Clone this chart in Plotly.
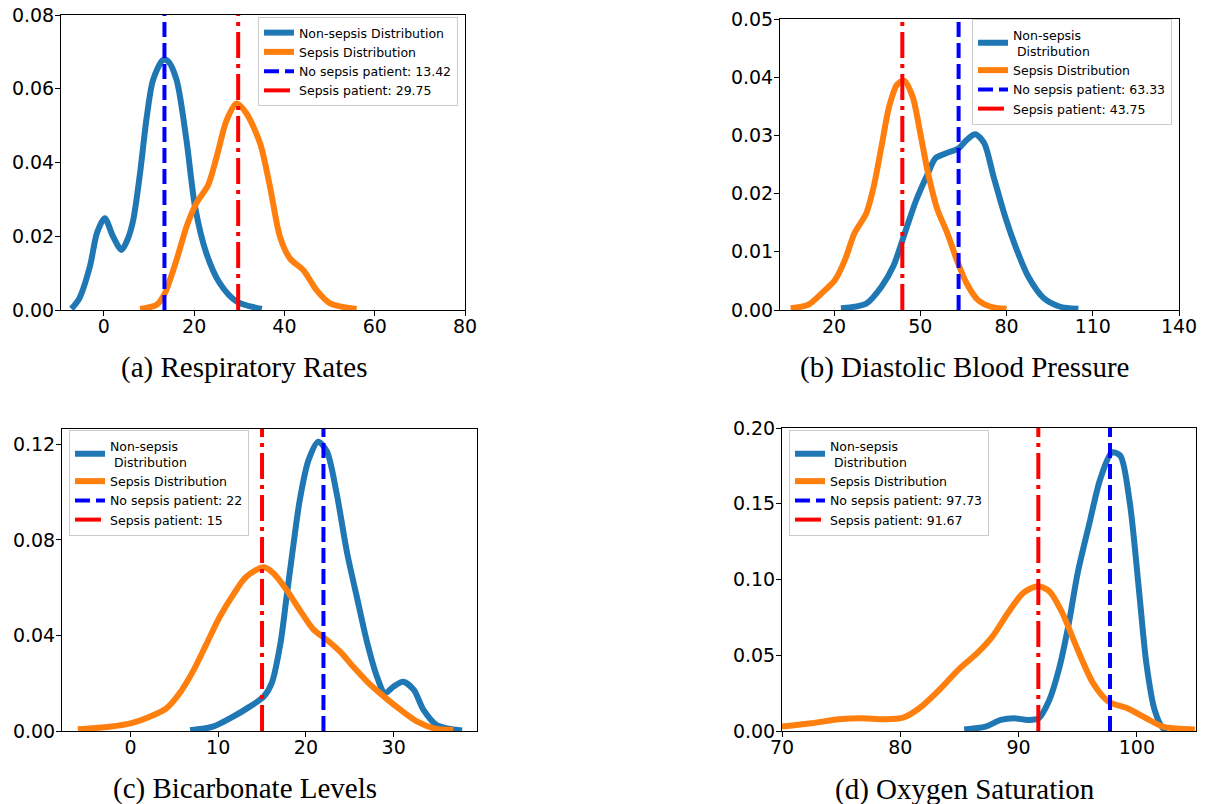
import plotly.graph_objects as go

W, H = 1205, 804

# ---- (a) Respiratory Rates: density curves read as (x, density) pairs ----
resp_non_x = [-7.2, -5.5, -3.1, -1.5, 0.2, 2.0, 3.9, 5.2, 6.5, 8.0, 9.5, 10.9, 13.1, 14.2, 16.1, 18.3, 20.2, 22.7, 25.7, 29.4, 35.0]
resp_non_y = [0.0003, 0.003, 0.0118, 0.021, 0.0249, 0.020, 0.0163, 0.019, 0.0244, 0.037, 0.0524, 0.0624, 0.0678, 0.0675, 0.0624, 0.046, 0.028, 0.0154, 0.0072, 0.0023, 0.0003]
resp_sep_x = [8.0, 11.7, 13.5, 16.1, 18.3, 20.5, 23.1, 25.0, 27.2, 29.4, 31.6, 34.6, 36.8, 39.0, 41.2, 44.2, 47.1, 50.1, 56.0]
resp_sep_y = [0.0003, 0.0014, 0.0045, 0.0136, 0.0226, 0.029, 0.0339, 0.0416, 0.0515, 0.056, 0.0533, 0.0452, 0.0334, 0.0199, 0.014, 0.0108, 0.0054, 0.0018, 0.0003]
resp_no_patient = 13.42
resp_sep_patient = 29.75

# ---- (b) Diastolic Blood Pressure ----
dbp_non_x = [22.4, 31.2, 36.5, 40.6, 44.6, 48.6, 52.7, 55.3, 59.4, 63.4, 66.1, 69.1, 72.2, 75.5, 79.5, 83.6, 87.6, 93.0, 98.4, 105.0]
dbp_non_y = [0.0003, 0.0011, 0.004, 0.0075, 0.0132, 0.0189, 0.0235, 0.0261, 0.027, 0.0278, 0.0292, 0.0302, 0.0287, 0.0229, 0.0161, 0.0103, 0.0057, 0.002, 0.0006, 0.0002]
dbp_sep_x = [4.9, 11.0, 16.4, 20.4, 23.8, 27.1, 31.2, 33.8, 36.5, 39.2, 41.9, 44.3, 47.3, 50.0, 52.7, 56.0, 59.4, 62.7, 66.1, 70.1, 74.2, 80.0]
dbp_sep_y = [0.0003, 0.0009, 0.0032, 0.0052, 0.0086, 0.0132, 0.0166, 0.0212, 0.0281, 0.035, 0.0387, 0.0394, 0.0367, 0.0304, 0.0235, 0.0172, 0.0132, 0.0086, 0.0046, 0.0017, 0.0006, 0.0002]
dbp_no_patient = 63.33
dbp_sep_patient = 43.75

# ---- (c) Bicarbonate Levels ----
bic_non_x = [6.8, 9.4, 11.7, 13.6, 15.2, 16.1, 17.1, 17.8, 18.6, 19.3, 20.3, 21.4, 22.4, 23.5, 24.7, 25.8, 27.0, 28.1, 29.0, 30.0, 31.1, 32.3, 33.4, 34.9, 37.8]
bic_non_y = [0.0003, 0.0018, 0.006, 0.0102, 0.0144, 0.02, 0.0367, 0.0562, 0.0786, 0.0967, 0.1134, 0.1211, 0.1169, 0.0995, 0.0744, 0.0562, 0.0367, 0.0227, 0.0158, 0.0186, 0.0206, 0.0172, 0.0088, 0.0025, 0.0002]
bic_sep_x = [-6.0, -2.4, 0.0, 2.2, 4.1, 5.6, 7.2, 8.7, 10.2, 11.7, 13.2, 15.2, 16.3, 17.8, 19.3, 20.9, 22.4, 23.9, 25.4, 27.0, 28.9, 30.8, 32.7, 34.6, 36.8]
bic_sep_y = [0.0007, 0.0018, 0.0032, 0.006, 0.0095, 0.0158, 0.0255, 0.0367, 0.0479, 0.057, 0.0646, 0.0685, 0.066, 0.059, 0.0506, 0.0423, 0.0381, 0.0332, 0.0269, 0.0206, 0.0144, 0.0088, 0.0039, 0.0011, 0.0004]
bic_no_patient = 22
bic_sep_patient = 15

# ---- (d) Oxygen Saturation ----
o2_non_x = [85.4, 87.2, 88.5, 89.6, 90.8, 91.7, 92.6, 93.4, 94.2, 95.0, 96.0, 96.9, 97.9, 98.6, 99.4, 100.2, 100.8, 101.5, 102.2, 102.6]
o2_non_y = [0.001, 0.0029, 0.0073, 0.0084, 0.0073, 0.0084, 0.0205, 0.0404, 0.0691, 0.1044, 0.1375, 0.1662, 0.1839, 0.1817, 0.1508, 0.0912, 0.0448, 0.0139, 0.0018, 0.0003]
o2_sep_x = [70.0, 72.5, 74.8, 76.8, 78.7, 80.3, 81.6, 83.3, 84.9, 86.5, 87.8, 89.1, 90.4, 91.6, 92.6, 93.7, 95.0, 96.3, 97.6, 99.2, 100.8, 102.2, 104.9]
o2_sep_y = [0.0029, 0.0051, 0.0077, 0.0084, 0.0077, 0.009, 0.015, 0.0272, 0.0404, 0.0514, 0.0625, 0.0779, 0.0912, 0.0956, 0.0923, 0.0779, 0.0536, 0.0316, 0.0194, 0.015, 0.0084, 0.0029, 0.001]
o2_no_patient = 97.73
o2_sep_patient = 91.67

captions = ["(a) Respiratory Rates", "(b) Diastolic Blood Pressure",
            "(c) Bicarbonate Levels", "(d) Oxygen Saturation"]

panels = [
    dict(non=(resp_non_x, resp_non_y), sep=(resp_sep_x, resp_sep_y),
         no_pat=resp_no_patient, sep_pat=resp_sep_patient, one_line=True,
         xrange=[-9.5, 80], yrange=[0, 0.08],
         xticks=[0, 20, 40, 60, 80], yticks=[0, 0.02, 0.04, 0.06, 0.08],
         box=(61, 465, 15, 310), legend=dict(x=458, y=17, xanchor="right"),
         cap=(244, 367)),
    dict(non=(dbp_non_x, dbp_non_y), sep=(dbp_sep_x, dbp_sep_y),
         no_pat=dbp_no_patient, sep_pat=dbp_sep_patient, one_line=False,
         xrange=[1.2, 140], yrange=[0, 0.05],
         xticks=[20, 50, 80, 110, 140], yticks=[0, 0.01, 0.02, 0.03, 0.04, 0.05],
         box=(780, 1179, 19, 310), legend=dict(x=1172, y=19, xanchor="right"),
         cap=(964, 367)),
    dict(non=(bic_non_x, bic_non_y), sep=(bic_sep_x, bic_sep_y),
         no_pat=bic_no_patient, sep_pat=bic_sep_patient, one_line=False,
         xrange=[-7.8, 39.5], yrange=[0, 0.1264],
         xticks=[0, 10, 20, 30], yticks=[0, 0.04, 0.08, 0.12],
         box=(62, 477, 429, 731), legend=dict(x=69, y=430, xanchor="left"),
         cap=(245, 788)),
    dict(non=(o2_non_x, o2_non_y), sep=(o2_sep_x, o2_sep_y),
         no_pat=o2_no_patient, sep_pat=o2_sep_patient, one_line=False,
         xrange=[70, 105], yrange=[0, 0.2],
         xticks=[70, 80, 90, 100], yticks=[0, 0.05, 0.10, 0.15, 0.20],
         box=(782, 1196, 428, 731), legend=dict(x=789, y=430, xanchor="left"),
         cap=(965, 789)),
]

TICK_FONT = dict(family="DejaVu Sans", size=19, color="black")
LEG_FONT = dict(family="DejaVu Sans", size=12.5, color="black")

fig = go.Figure()
layout = dict(
    width=W, height=H, margin=dict(l=0, r=0, t=0, b=0, autoexpand=False),
    paper_bgcolor="white", plot_bgcolor="white", showlegend=True,
    annotations=[],
)

for i, p in enumerate(panels, start=1):
    sfx = "" if i == 1 else str(i)
    xa, ya = "x" + sfx, "y" + sfx
    leg = "legend" + sfx
    non_name = "Non-sepsis Distribution" if p["one_line"] else "Non-sepsis<br> Distribution"

    fig.add_trace(go.Scatter(x=p["non"][0], y=p["non"][1], mode="lines",
                             line=dict(color="#1f77b4", width=6, shape="spline", smoothing=0.8),
                             name=non_name, xaxis=xa, yaxis=ya, legend=leg))
    fig.add_trace(go.Scatter(x=p["sep"][0], y=p["sep"][1], mode="lines",
                             line=dict(color="#ff7f0e", width=6, shape="spline", smoothing=0.8),
                             name="Sepsis Distribution", xaxis=xa, yaxis=ya, legend=leg))
    top = p["yrange"][1]
    fig.add_trace(go.Scatter(x=[p["no_pat"], p["no_pat"]], y=[0, top], mode="lines",
                             line=dict(color="blue", width=4, dash="15px,6px"),
                             name=f"No sepsis patient: {p['no_pat']}",
                             xaxis=xa, yaxis=ya, legend=leg))
    fig.add_trace(go.Scatter(x=[p["sep_pat"], p["sep_pat"]], y=[0, top], mode="lines",
                             line=dict(color="red", width=4, dash="26px,6px,4px,6px"),
                             name=f"Sepsis patient: {p['sep_pat']}",
                             xaxis=xa, yaxis=ya, legend=leg))

    l, r, t, b = p["box"]
    axis_common = dict(showgrid=False, zeroline=False, showline=True, mirror=True,
                       linecolor="black", linewidth=1, ticks="outside", ticklen=5,
                       tickwidth=1, tickcolor="black", tickfont=TICK_FONT,
                       automargin=False)
    layout["xaxis" + sfx] = dict(domain=[l / W, r / W], range=p["xrange"],
                                 tickvals=p["xticks"], anchor=ya,
                                 ticklabelstandoff=-6, **axis_common)
    layout["yaxis" + sfx] = dict(domain=[1 - b / H, 1 - t / H], range=p["yrange"],
                                 tickvals=p["yticks"], tickformat=".2f", anchor=xa,
                                 ticklabelstandoff=-3, **axis_common)
    lg = p["legend"]
    layout[leg] = dict(x=lg["x"] / W, y=1 - lg["y"] / H, xanchor=lg["xanchor"],
                       yanchor="top", xref="paper", yref="paper",
                       bgcolor="rgba(255,255,255,0.8)", bordercolor="#cccccc",
                       borderwidth=1, font=LEG_FONT, itemwidth=30,
                       tracegroupgap=0)
    cx, cy = p["cap"]
    layout["annotations"].append(dict(
        text=captions[i - 1], x=cx / W, y=1 - cy / H, xref="paper", yref="paper",
        xanchor="center", yanchor="middle", showarrow=False,
        font=dict(family="Liberation Serif", size=29, color="black")))

fig.update_layout(**layout)
fig.write_html("out.html")
